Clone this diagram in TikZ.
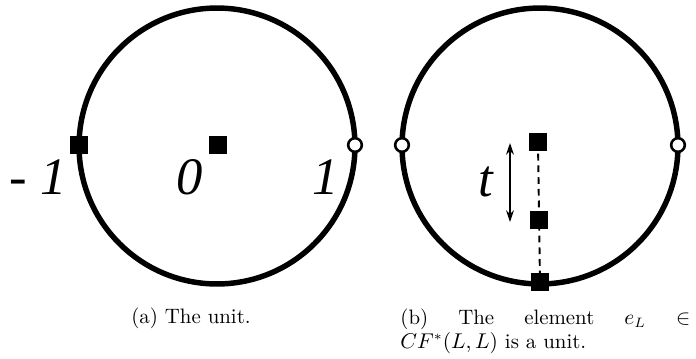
\documentclass[tikz,border=0pt]{standalone}
\usepackage{fontspec}
\newfontfamily\tmsit{Liberation Serif}[UprightFont={* Italic}]
\usetikzlibrary{arrows.meta}
\begin{document}
\begin{tikzpicture}[x=0.5128pt,y=-0.5128pt,
  ring/.style={circle, draw, line width=2.8pt, minimum size=141.5pt, inner sep=0pt},
  sq/.style={rectangle, fill=black, minimum size=9pt, inner sep=0pt},
  hole/.style={circle, draw, fill=white, line width=1.3pt, minimum size=7pt, inner sep=0pt},
  lbl/.style={font=\tmsit\fontsize{27}{27}\selectfont, inner sep=0pt},
  captxt/.style={font=\fontsize{10.7}{12.6}\selectfont, inner sep=0pt}]
\useasboundingbox (0,0) rectangle (696,358);
% (a)
\node[ring] (ringA) at (217,146) {};
\node[sq] (m1) at (79,145) {};
\node[sq] (zero) at (218,145) {};
\node[hole] (one) at (355,145) {};
\node[lbl] (lm1) at (38,177) {- 1};
\node[lbl] (l0) at (190,177) {0};
\node[lbl] (l1) at (326,177) {1};
% (b)
\node[ring] (ringB) at (540,146) {};
\node[hole] (hl) at (402,145) {};
\node[hole] (hr) at (678,145) {};
\coordinate (sqtopc) at (538,142);
\coordinate (sqbotc) at (540,282);
\draw[line width=1pt, dash pattern=on 3.5pt off 2.5pt] (sqtopc) -- (sqbotc);
\node[sq] (sqtop) at (sqtopc) {};
\node[sq] (sqmid) at (539,220) {};
\node[sq] (sqbot) at (sqbotc) {};
\coordinate (arT) at (510,143);
\coordinate (arB) at (510,222);
\draw[line width=0.7pt, {Stealth[length=6pt,width=4pt]}-{Stealth[length=6pt,width=4pt]}] (arT) -- (arB);
\node[lbl] (lt) at (486,182) {t};
% captions
\node[captxt] (capA) at (191,318) {(a) The unit.};
\node[captxt, anchor=north west, text width=148.7pt, align=left] (capB) at (400,308)
  {(b)\hfill The\hfill element\hfill $e_L$\hfill $\in$\\ $CF^*(L,L)$ is a unit.};
\end{tikzpicture}
\end{document}
